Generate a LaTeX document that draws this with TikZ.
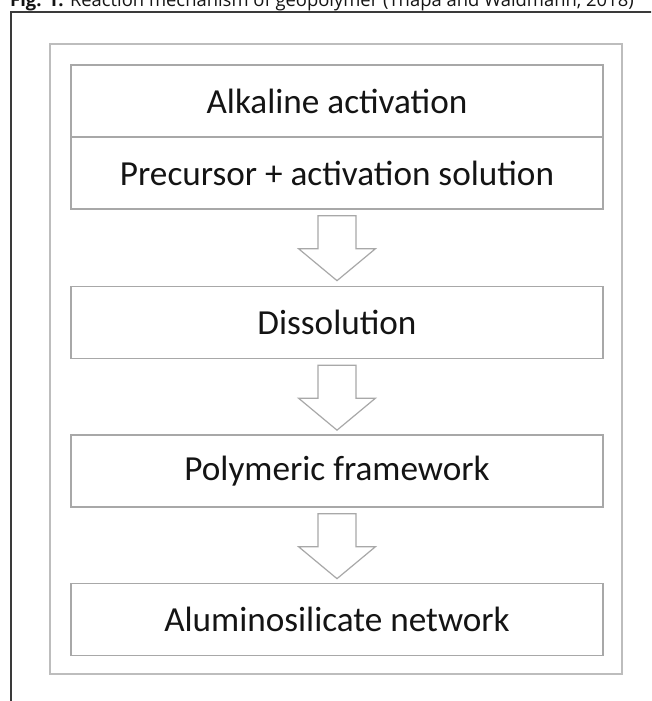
\documentclass[tikz,border=0pt]{standalone}
\usepackage{fontspec}
\setmainfont{Carlito}
\newfontfamily\capfont{Open Sans}
\usetikzlibrary{calc}
\definecolor{boxgray}{HTML}{A8A8A8}
\definecolor{framegray}{HTML}{BDBDBD}
\definecolor{outerline}{HTML}{3A3A3A}
\definecolor{txt}{HTML}{141414}
\tikzset{
  stagebox/.style={draw=boxgray, line width=1.3pt, minimum width=532pt, minimum height=72pt,
    inner sep=0pt, font=\fontsize{35.2}{40}\selectfont, text=txt},
  blockarrowshape/.style={draw=boxgray, line width=1.2pt, fill=white, line join=miter},
  innerframe/.style={draw=framegray, line width=2pt},
  outerframe/.style={draw=outerline, line width=1.5pt},
}
\newcommand{\blockarr}[2]{%
  \draw[blockarrowshape, shift={($(#1.south)+(0,6)$)}]
    (-19,0) -- (19,0) -- (19,33) -- (38.5,33) -- (0,65) -- (-38.5,33) -- (-19,33) -- cycle;}
\begin{document}
\begin{tikzpicture}[x=1pt,y=-1pt]
\useasboundingbox (0,0) rectangle (651,701);
\clip (0,0) rectangle (651,701);
\fill[white] (0,0) rectangle (651,701);
\node[anchor=base west, inner sep=0pt, text=txt, font=\capfont\fontsize{18.4}{22}\selectfont] (cap) at (10,7)
  {\textbf{Fig. 1:} Reaction mechanism of geopolymer (Thapa and Waldmann, 2018)};
\draw[outerframe] (11,12) rectangle (720,760);
\draw[innerframe] (50,44) rectangle (622,674);
\node[stagebox] (alk) at (337,101) {Alkaline activation};
\node[stagebox] (pre) at (337,173) {Precursor + activation solution};
\node[stagebox] (dis) at (337,322.5) {Dissolution};
\node[stagebox] (pol) at (337,471) {Polymeric framework};
\node[stagebox] (alu) at (337,619.5) {Aluminosilicate network};
\blockarr{pre}{dis}
\blockarr{dis}{pol}
\blockarr{pol}{alu}
\end{tikzpicture}
\end{document}
